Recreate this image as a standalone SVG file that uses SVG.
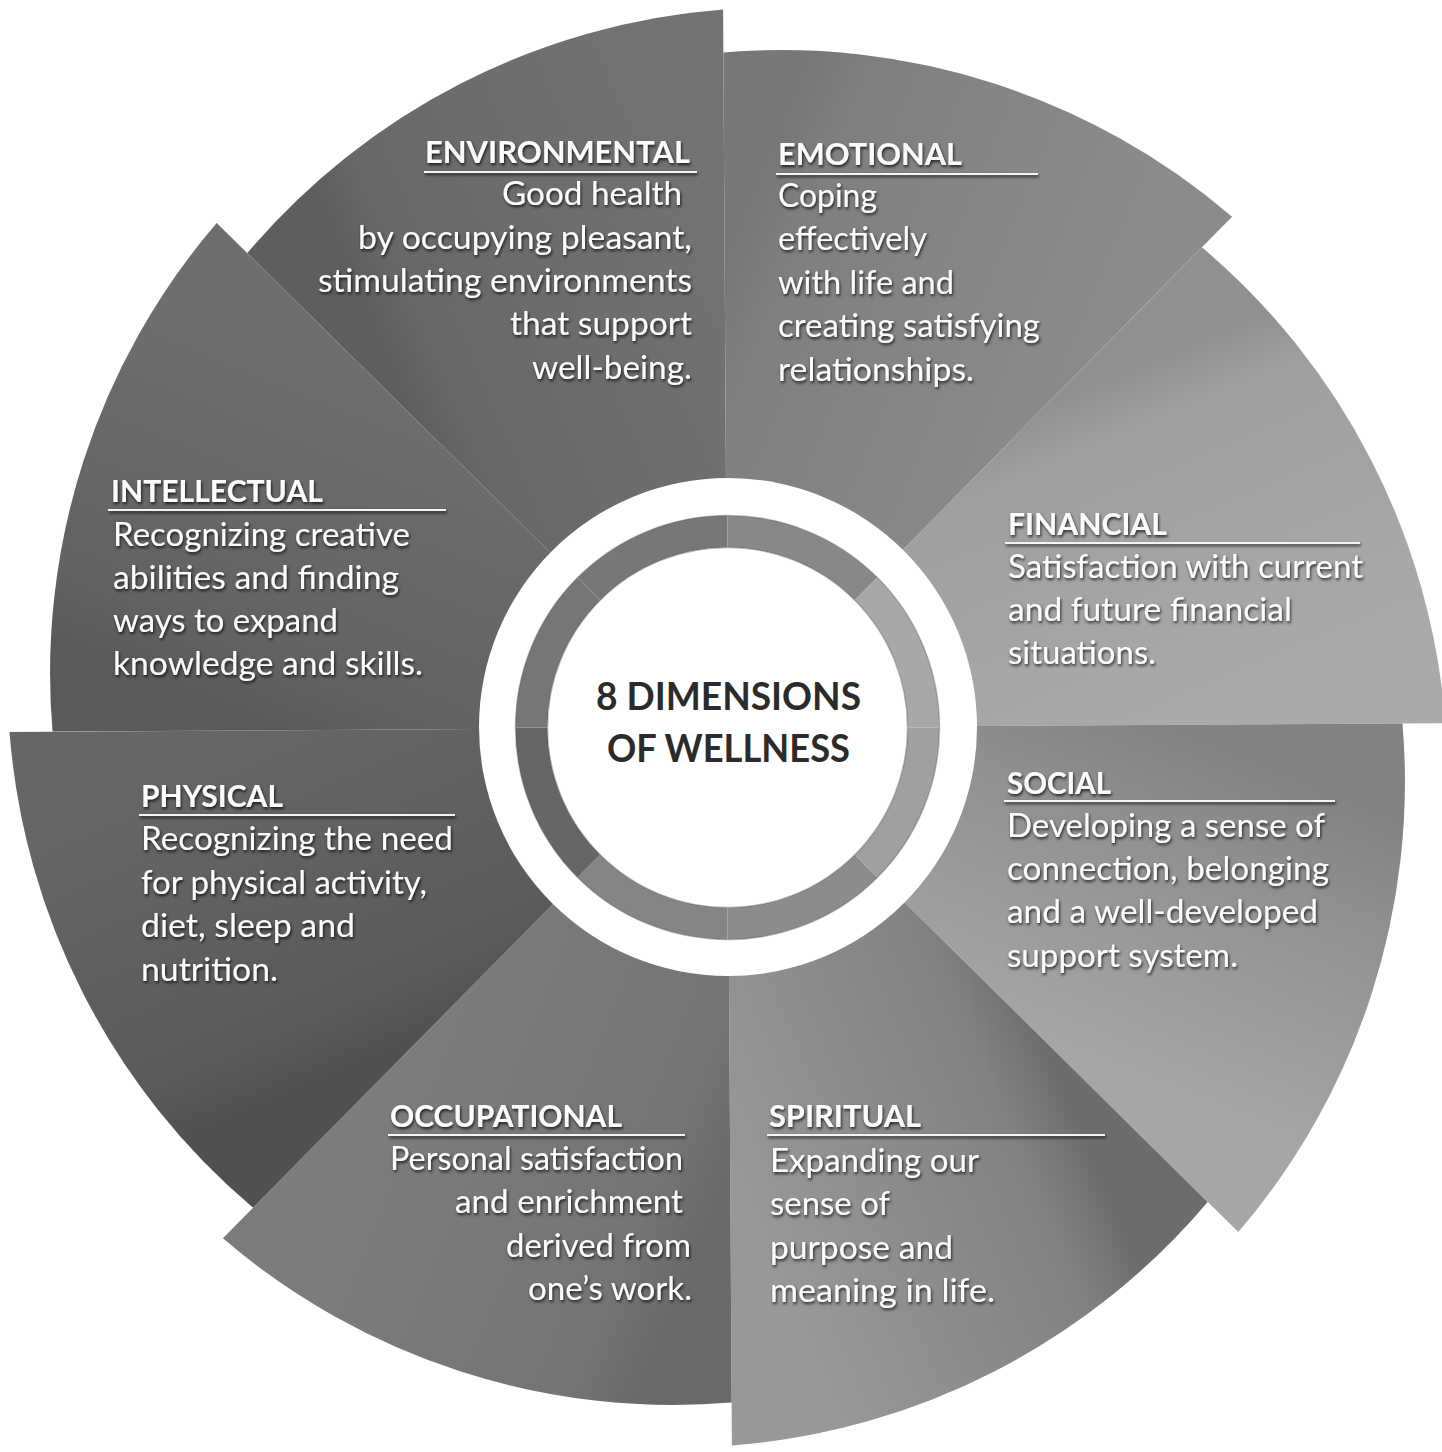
<svg xmlns="http://www.w3.org/2000/svg" width="1442" height="1452" viewBox="0 0 1442 1452">
<defs>
<style>
.t{font-family:Lato,"Open Sans","Liberation Sans",sans-serif;fill:#fbfbfb;font-size:32px}
.h{font-weight:bold;font-size:31px}
.c{font-family:Lato,"Open Sans","Liberation Sans",sans-serif;fill:#2b2b2b;font-size:38px;font-weight:bold}
.u{stroke:#f4f4f4;stroke-width:2}
.ring{fill:none;stroke-width:32}
</style>
<filter id="ts" x="-10%" y="-40%" width="120%" height="180%">
<feGaussianBlur in="SourceAlpha" stdDeviation="1.6" result="b"/>
<feOffset in="b" dx="1" dy="1.5" result="o"/>
<feFlood flood-color="#000" flood-opacity="0.75"/>
<feComposite in2="o" operator="in" result="s"/>
<feMerge><feMergeNode in="s"/><feMergeNode in="SourceGraphic"/></feMerge>
</filter>
<linearGradient id="gEnv" gradientUnits="userSpaceOnUse" x1="409.3" y1="409.3" x2="727.5" y2="277.5"><stop offset="0" stop-color="#5e5e5e"/><stop offset="0.15" stop-color="#686868"/><stop offset="1" stop-color="#727272"/></linearGradient>
<linearGradient id="gEmo" gradientUnits="userSpaceOnUse" x1="727.5" y1="277.5" x2="1045.7" y2="409.3"><stop offset="0" stop-color="#777777"/><stop offset="0.15" stop-color="#7f7f7f"/><stop offset="1" stop-color="#8b8b8b"/></linearGradient>
<linearGradient id="gFin" gradientUnits="userSpaceOnUse" x1="1045.7" y1="409.3" x2="1177.5" y2="727.5"><stop offset="0" stop-color="#909090"/><stop offset="0.15" stop-color="#9f9f9f"/><stop offset="1" stop-color="#aaaaaa"/></linearGradient>
<linearGradient id="gSoc" gradientUnits="userSpaceOnUse" x1="1177.5" y1="727.5" x2="1045.7" y2="1045.7"><stop offset="0" stop-color="#828282"/><stop offset="0.3" stop-color="#8f8f8f"/><stop offset="1" stop-color="#a6a6a6"/></linearGradient>
<linearGradient id="gSpi" gradientUnits="userSpaceOnUse" x1="1045.7" y1="1045.7" x2="727.5" y2="1177.5"><stop offset="0" stop-color="#6c6c6c"/><stop offset="0.2" stop-color="#828282"/><stop offset="1" stop-color="#989898"/></linearGradient>
<linearGradient id="gOcc" gradientUnits="userSpaceOnUse" x1="727.5" y1="1177.5" x2="409.3" y2="1045.7"><stop offset="0" stop-color="#6a6a6a"/><stop offset="0.2" stop-color="#747474"/><stop offset="1" stop-color="#7c7c7c"/></linearGradient>
<linearGradient id="gPhy" gradientUnits="userSpaceOnUse" x1="409.3" y1="1045.7" x2="277.5" y2="727.5"><stop offset="0" stop-color="#505050"/><stop offset="0.2" stop-color="#5a5a5a"/><stop offset="1" stop-color="#666666"/></linearGradient>
<linearGradient id="gInt" gradientUnits="userSpaceOnUse" x1="277.5" y1="727.5" x2="409.3" y2="409.3"><stop offset="0" stop-color="#5a5a5a"/><stop offset="0.2" stop-color="#626262"/><stop offset="1" stop-color="#6e6e6e"/></linearGradient>
</defs>
<rect width="1442" height="1452" fill="#ffffff"/>

<g id="environmental">
<path fill="url(#gEnv)" transform="rotate(-0.35 727.5 727.5)" d="M727.5,727.5 L250.2,250.2 A692,692 0 0 1 727.5,9.5 Z"/>
<g filter="url(#ts)">
<text class="t h" x="425" y="163" textLength="265" lengthAdjust="spacingAndGlyphs">ENVIRONMENTAL</text>
<line class="u" x1="424" y1="172" x2="697" y2="172"/>
<text class="t" x="502" y="205" textLength="180" lengthAdjust="spacingAndGlyphs">Good health</text>
<text class="t" x="358" y="249" textLength="334" lengthAdjust="spacingAndGlyphs">by occupying pleasant,</text>
<text class="t" x="318" y="292" textLength="374" lengthAdjust="spacingAndGlyphs">stimulating environments</text>
<text class="t" x="510" y="335" textLength="182" lengthAdjust="spacingAndGlyphs">that support</text>
<text class="t" x="532" y="379" textLength="160" lengthAdjust="spacingAndGlyphs">well-being.</text>
</g>
</g>

<g id="emotional">
<path fill="url(#gEmo)" transform="rotate(-0.35 727.5 727.5)" d="M727.5,727.5 L727.5,52.5 A692,692 0 0 1 1235.2,219.8 Z"/>
<g filter="url(#ts)">
<text class="t h" x="778" y="165" textLength="184" lengthAdjust="spacingAndGlyphs">EMOTIONAL</text>
<line class="u" x1="776" y1="174" x2="1038" y2="174"/>
<text class="t" x="778" y="207" textLength="99" lengthAdjust="spacingAndGlyphs">Coping</text>
<text class="t" x="778" y="250" textLength="149" lengthAdjust="spacingAndGlyphs">effectively</text>
<text class="t" x="778" y="294" textLength="176" lengthAdjust="spacingAndGlyphs">with life and</text>
<text class="t" x="778" y="337" textLength="262" lengthAdjust="spacingAndGlyphs">creating satisfying</text>
<text class="t" x="778" y="381" textLength="196" lengthAdjust="spacingAndGlyphs">relationships.</text>
</g>
</g>

<g id="financial">
<path fill="url(#gFin)" transform="rotate(-0.35 727.5 727.5)" d="M727.5,727.5 L1204.8,250.2 A692,692 0 0 1 1445.5,727.5 Z"/>
<g filter="url(#ts)">
<text class="t h" x="1008" y="535" textLength="159" lengthAdjust="spacingAndGlyphs">FINANCIAL</text>
<line class="u" x1="1005" y1="543" x2="1360" y2="543"/>
<text class="t" x="1008" y="578" textLength="355" lengthAdjust="spacingAndGlyphs">Satisfaction with current</text>
<text class="t" x="1008" y="621" textLength="284" lengthAdjust="spacingAndGlyphs">and future financial</text>
<text class="t" x="1008" y="664" textLength="148" lengthAdjust="spacingAndGlyphs">situations.</text>
</g>
</g>

<g id="social">
<path fill="url(#gSoc)" transform="rotate(-0.35 727.5 727.5)" d="M727.5,727.5 L1402.5,727.5 A692,692 0 0 1 1235.2,1235.2 Z"/>
<g filter="url(#ts)">
<text class="t h" x="1007" y="794" textLength="104" lengthAdjust="spacingAndGlyphs">SOCIAL</text>
<line class="u" x1="1004" y1="801" x2="1335" y2="801"/>
<text class="t" x="1007" y="837" textLength="318" lengthAdjust="spacingAndGlyphs">Developing a sense of</text>
<text class="t" x="1007" y="880" textLength="322" lengthAdjust="spacingAndGlyphs">connection, belonging</text>
<text class="t" x="1007" y="923" textLength="311" lengthAdjust="spacingAndGlyphs">and a well-developed</text>
<text class="t" x="1007" y="967" textLength="231" lengthAdjust="spacingAndGlyphs">support system.</text>
</g>
</g>

<g id="spiritual">
<path fill="url(#gSpi)" transform="rotate(-0.35 727.5 727.5)" d="M727.5,727.5 L1204.8,1204.8 A692,692 0 0 1 727.5,1445.5 Z"/>
<g filter="url(#ts)">
<text class="t h" x="769" y="1127" textLength="152" lengthAdjust="spacingAndGlyphs">SPIRITUAL</text>
<line class="u" x1="767" y1="1135" x2="1105" y2="1135"/>
<text class="t" x="770" y="1172" textLength="209" lengthAdjust="spacingAndGlyphs">Expanding our</text>
<text class="t" x="770" y="1215" textLength="120" lengthAdjust="spacingAndGlyphs">sense of</text>
<text class="t" x="770" y="1259" textLength="183" lengthAdjust="spacingAndGlyphs">purpose and</text>
<text class="t" x="770" y="1302" textLength="225" lengthAdjust="spacingAndGlyphs">meaning in life.</text>
</g>
</g>

<g id="occupational">
<path fill="url(#gOcc)" transform="rotate(-0.35 727.5 727.5)" d="M727.5,727.5 L727.5,1402.5 A692,692 0 0 1 219.8,1235.2 Z"/>
<g filter="url(#ts)">
<text class="t h" x="390" y="1127" textLength="232" lengthAdjust="spacingAndGlyphs">OCCUPATIONAL</text>
<line class="u" x1="388" y1="1135" x2="685" y2="1135"/>
<text class="t" x="390" y="1170" textLength="293" lengthAdjust="spacingAndGlyphs">Personal satisfaction</text>
<text class="t" x="455" y="1213" textLength="228" lengthAdjust="spacingAndGlyphs">and enrichment</text>
<text class="t" x="506" y="1257" textLength="185" lengthAdjust="spacingAndGlyphs">derived from</text>
<text class="t" x="528" y="1300" textLength="164" lengthAdjust="spacingAndGlyphs">one’s work.</text>
</g>
</g>

<g id="physical">
<path fill="url(#gPhy)" transform="rotate(-0.35 727.5 727.5)" d="M727.5,727.5 L250.2,1204.8 A692,692 0 0 1 9.5,727.5 Z"/>
<g filter="url(#ts)">
<text class="t h" x="141" y="807" textLength="142" lengthAdjust="spacingAndGlyphs">PHYSICAL</text>
<line class="u" x1="139" y1="815" x2="455" y2="815"/>
<text class="t" x="141" y="850" textLength="312" lengthAdjust="spacingAndGlyphs">Recognizing the need</text>
<text class="t" x="141" y="894" textLength="286" lengthAdjust="spacingAndGlyphs">for physical activity,</text>
<text class="t" x="141" y="937" textLength="214" lengthAdjust="spacingAndGlyphs">diet, sleep and</text>
<text class="t" x="141" y="981" textLength="137" lengthAdjust="spacingAndGlyphs">nutrition.</text>
</g>
</g>

<g id="intellectual">
<path fill="url(#gInt)" transform="rotate(-0.35 727.5 727.5)" d="M727.5,727.5 L52.5,727.5 A692,692 0 0 1 219.8,219.8 Z"/>
<g filter="url(#ts)">
<text class="t h" x="111" y="502" textLength="212" lengthAdjust="spacingAndGlyphs">INTELLECTUAL</text>
<line class="u" x1="108" y1="510" x2="446" y2="510"/>
<text class="t" x="113" y="546" textLength="297" lengthAdjust="spacingAndGlyphs">Recognizing creative</text>
<text class="t" x="113" y="589" textLength="286" lengthAdjust="spacingAndGlyphs">abilities and finding</text>
<text class="t" x="113" y="632" textLength="225" lengthAdjust="spacingAndGlyphs">ways to expand</text>
<text class="t" x="113" y="675" textLength="310" lengthAdjust="spacingAndGlyphs">knowledge and skills.</text>
</g>
</g>

<g id="center">
<circle cx="728" cy="727" r="249" fill="#ffffff"/>
<path class="ring" stroke="#777777" d="M588.9,588.9 A196,196 0 0 1 727.5,531.5"/>
<path class="ring" stroke="#888888" d="M727.5,531.5 A196,196 0 0 1 866.1,588.9"/>
<path class="ring" stroke="#a8a8a8" d="M866.1,588.9 A196,196 0 0 1 923.5,727.5"/>
<path class="ring" stroke="#a0a0a0" d="M923.5,727.5 A196,196 0 0 1 866.1,866.1"/>
<path class="ring" stroke="#8c8c8c" d="M866.1,866.1 A196,196 0 0 1 727.5,923.5"/>
<path class="ring" stroke="#858585" d="M727.5,923.5 A196,196 0 0 1 588.9,866.1"/>
<path class="ring" stroke="#666666" d="M588.9,866.1 A196,196 0 0 1 531.5,727.5"/>
<path class="ring" stroke="#767676" d="M531.5,727.5 A196,196 0 0 1 588.9,588.9"/>
<circle cx="727.5" cy="727.5" r="212" fill="none" stroke="#555555" stroke-opacity="0.35" stroke-width="1.5"/>
<circle cx="727.5" cy="727.5" r="180" fill="#ffffff" stroke="#555555" stroke-opacity="0.4" stroke-width="1.5"/>
<text class="c" x="596" y="710" textLength="265" lengthAdjust="spacingAndGlyphs">8 DIMENSIONS</text>
<text class="c" x="607" y="762" textLength="243" lengthAdjust="spacingAndGlyphs">OF WELLNESS</text>
</g>
</svg>
